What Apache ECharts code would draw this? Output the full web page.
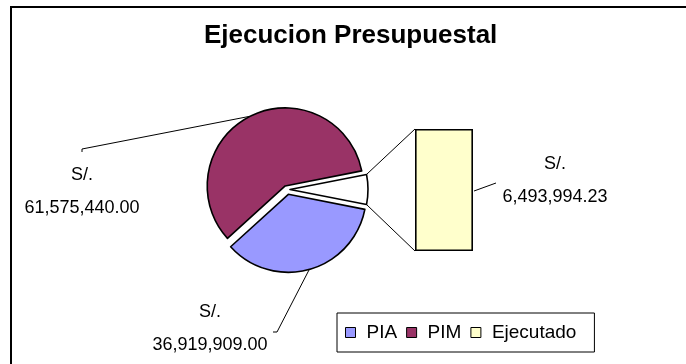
<!DOCTYPE html>
<html>
<head>
<meta charset="utf-8">
<script src="https://cdn.jsdelivr.net/npm/echarts@6/dist/echarts.min.js"></script>
<style>
  html, body { margin: 0; padding: 0; background: #fff; }
  #chart { width: 686px; height: 364px; }
</style>
</head>
<body>
<div id="chart"></div>
<script>
// Budget figures (soles)
const categories = ['PIA', 'PIM', 'Ejecutado'];
const values = [36919909.00, 61575440.00, 6493994.23];
const currency = 'S/.';
const titleText = 'Ejecucion Presupuestal';

// Styling
const sliceColors = ['#9999FF', '#993366', '#FFFFFF'];
const legendColors = ['#9999FF', '#993366', '#FFFFCC'];
const barColor = '#FFFFCC';
const plainFont = "'Liberation Sans', Arial, sans-serif";

// Pie geometry
const pieCenter = [287, 189.5];
const pieRadius = 78;
const explode = [5, 4, 3];

// Bar-of-pie column and its label anchor
const barBox = { left: 415, top: 129, width: 58, height: 122 };
const barLabelSpot = { x: 555, y: 180.5, end: [-59, 2.5] };

function money(v) {
  const parts = v.toFixed(2).split('.');
  parts[0] = parts[0].replace(/\B(?=(\d{3})+(?!\d))/g, ',');
  return parts.join('.');
}

const total = values.reduce((a, b) => a + b, 0);
const splitAngle = values[2] / total * 360;
const startAngle = -splitAngle / 2;

// mid angle (degrees, counter-clockwise) of every slice, drawn clockwise from startAngle
let acc = startAngle;
const midAngles = values.map(v => {
  const a = v / total * 360;
  const m = acc - a / 2;
  acc -= a;
  return m;
});

function sliceCenter(i) {
  const m = midAngles[i] * Math.PI / 180;
  return [pieCenter[0] + Math.cos(m) * explode[i], pieCenter[1] - Math.sin(m) * explode[i]];
}

const labelFont = { fontFamily: plainFont, fontSize: 18, lineHeight: 33, color: '#000' };

// label anchors and leader line ends for the pie slices
const labelSpots = [
  { x: 210, y: 328.5, end: [67, 3.5], tick: [63, 3.5] },
  { x: 82, y: 191.5, end: [0, -42.5], tick: [0, -39.5] },
  null
];

const pieSeries = categories.map((name, i) => {
  const spot = labelSpots[i];
  return {
    type: 'pie',
    name: name,
    center: sliceCenter(i),
    radius: pieRadius,
    startAngle: startAngle,
    clockwise: true,
    silent: true,
    animation: false,
    avoidLabelOverlap: false,
    emphasis: { disabled: true },
    data: categories.map((n, j) => j === i ? {
      name: n,
      value: values[j],
      itemStyle: { color: sliceColors[j], borderColor: '#000', borderWidth: 1.6 },
      label: spot ? Object.assign({
        show: true,
        position: 'outside',
        formatter: p => currency + '\n' + money(p.value)
      }, labelFont) : { show: false },
      labelLine: { show: !!spot, lineStyle: { color: '#000', width: 1 } }
    } : {
      name: n,
      value: values[j],
      itemStyle: { color: 'rgba(0,0,0,0)', borderWidth: 0 },
      label: { show: false },
      labelLine: { show: false }
    }),
    labelLayout: spot ? function (p) {
      if (p.dataIndex !== i || !p.labelLinePoints) return {};
      return {
        x: spot.x,
        y: spot.y,
        align: 'center',
        verticalAlign: 'middle',
        labelLinePoints: [
          p.labelLinePoints[0],
          [spot.x + spot.end[0], spot.y + spot.end[1]],
          [spot.x + spot.tick[0], spot.y + spot.tick[1]]
        ]
      };
    } : undefined
  };
});

// connector lines from the split slice to the column
const ec = sliceCenter(2);
const aTop = (startAngle + splitAngle) * Math.PI / 180;
const aBot = startAngle * Math.PI / 180;
const cornerTop = [ec[0] + pieRadius * Math.cos(aTop), ec[1] - pieRadius * Math.sin(aTop)];
const cornerBot = [ec[0] + pieRadius * Math.cos(aBot), ec[1] - pieRadius * Math.sin(aBot)];

const chart = echarts.init(document.getElementById('chart'), null, { renderer: 'canvas' });
chart.setOption({
  animation: false,
  backgroundColor: '#fff',
  title: {
    text: titleText,
    left: 204,
    top: 23,
    padding: 0,
    textStyle: { fontFamily: plainFont, fontWeight: 'bold', fontSize: 26, color: '#000' }
  },
  legend: {
    data: categories.map((n, i) => ({ name: n, itemStyle: { color: legendColors[i] } })),
    left: 337,
    top: 313,
    orient: 'horizontal',
    icon: 'rect',
    itemWidth: 10,
    itemHeight: 10,
    itemGap: 9,
    padding: [10, 18, 10, 8],
    borderColor: '#000',
    borderWidth: 1,
    borderRadius: 0,
    selectedMode: false,
    itemStyle: { borderColor: '#000', borderWidth: 1 },
    textStyle: { fontFamily: plainFont, fontSize: 19, color: '#000', padding: [0, 0, 0, 6] }
  },
  grid: Object.assign({ containLabel: false }, barBox),
  xAxis: { type: 'category', data: [categories[2]], show: false },
  yAxis: { type: 'value', min: 0, max: values[2], show: false },
  graphic: [
    { type: 'rect', shape: { x: 11, y: 7, width: 1000, height: 1000 }, style: { fill: 'none', stroke: '#000', lineWidth: 2 }, silent: true, z: 100 },
    { type: 'line', shape: { x1: cornerTop[0], y1: cornerTop[1], x2: barBox.left, y2: barBox.top }, style: { stroke: '#000', lineWidth: 1 }, silent: true },
    { type: 'line', shape: { x1: cornerBot[0], y1: cornerBot[1], x2: barBox.left, y2: barBox.top + barBox.height }, style: { stroke: '#000', lineWidth: 1 }, silent: true },
    // leader from the column to its value label
    { type: 'line', shape: {
        x1: barBox.left + barBox.width + 1, y1: barBox.top + barBox.height / 2 + 1,
        x2: barLabelSpot.x + barLabelSpot.end[0], y2: barLabelSpot.y + barLabelSpot.end[1]
      }, style: { stroke: '#000', lineWidth: 1 }, silent: true }
  ],
  series: pieSeries.concat([{
    type: 'bar',
    name: categories[2],
    data: [values[2]],
    barWidth: '100%',
    silent: true,
    itemStyle: { color: barColor, borderColor: '#000', borderWidth: 1.6 },
    label: Object.assign({
      show: true,
      position: 'right',
      formatter: p => currency + '\n' + money(p.value)
    }, labelFont),
    labelLayout: function () {
      return {
        x: barLabelSpot.x,
        y: barLabelSpot.y,
        align: 'center',
        verticalAlign: 'middle'
      };
    }
  }])
});
</script>
</body>
</html>
